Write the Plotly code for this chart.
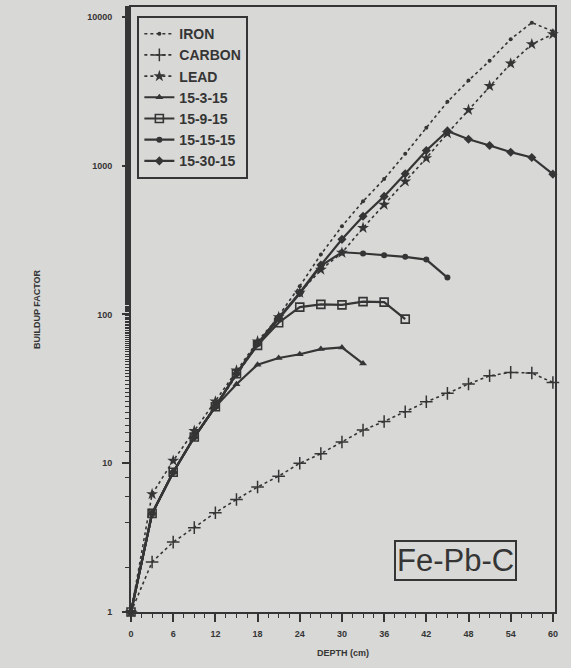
import plotly.graph_objects as go

# depth grid (cm)
depth_full = [0, 3, 6, 9, 12, 15, 18, 21, 24, 27, 30, 33, 36, 39, 42, 45, 48, 51, 54, 57, 60]

iron = [1, 4.5, 8.7, 14.8, 24, 39, 63, 98, 155, 253, 392, 576, 813, 1203, 1800, 2690, 3740, 5070, 7090, 9160, 8020]
carbon = [1, 2.17, 2.95, 3.69, 4.65, 5.71, 6.92, 8.19, 10.0, 11.6, 13.9, 16.7, 19.1, 22.2, 25.9, 29.5, 34.1, 38.7, 40.8, 40.4, 34.9]
lead = [1, 6.2, 10.4, 16.5, 26, 42, 66, 96, 140, 200, 260, 382, 547, 784, 1125, 1653, 2372, 3435, 4865, 6560, 7660]

d_15_3_15 = [0, 3, 6, 9, 12, 15, 18, 21, 24, 27, 30, 33]
v_15_3_15 = [1, 4.6, 8.7, 15, 24, 34, 46, 51, 54, 58.5, 60, 46.8]

d_15_9_15 = [0, 3, 6, 9, 12, 15, 18, 21, 24, 27, 30, 33, 36, 39]
v_15_9_15 = [1, 4.6, 8.7, 15, 24, 40, 62, 88, 112, 117, 116, 122, 121, 93]

d_15_15_15 = [0, 3, 6, 9, 12, 15, 18, 21, 24, 27, 30, 33, 36, 39, 42, 45]
v_15_15_15 = [1, 4.6, 8.7, 15, 24, 40, 63, 94, 138, 212, 262, 257, 250, 244, 234, 177]

d_15_30_15 = depth_full
v_15_30_15 = [1, 4.6, 8.7, 15, 24, 40, 64, 95, 140, 215, 320, 457, 622, 883, 1265, 1714, 1507, 1367, 1233, 1136, 878]

x_ticks = [0, 6, 12, 18, 24, 30, 36, 42, 48, 54, 60]
y_ticks = [1, 10, 100, 1000, 10000]
y_tick_text = ["1", "10", "100", "1000", "10000"]

INK = "#353535"
BG = "#d8d8d6"

fig = go.Figure()

def add(name, x, y, dash, symbol, size, width, mline=0):
    fig.add_trace(go.Scatter(
        x=x, y=y, name=name, mode="lines+markers",
        line=dict(color=INK, width=width, dash=dash),
        marker=dict(symbol=symbol, size=size, color=INK,
                    line=dict(color=INK, width=mline)),
        cliponaxis=False,
    ))

add("IRON", depth_full, iron, "dot", "circle", 4, 1.6)
add("CARBON", depth_full, carbon, "dot", "cross-thin", 9, 1.6, 1.5)
add("LEAD", depth_full, lead, "dot", "star", 9, 1.6)
add("15-3-15", d_15_3_15, v_15_3_15, "solid", "triangle-up", 7, 2.2)
add("15-9-15", d_15_9_15, v_15_9_15, "solid", "square-open", 8, 2.2, 1.6)
add("15-15-15", d_15_15_15, v_15_15_15, "solid", "circle", 6, 2.2)
add("15-30-15", d_15_30_15, v_15_30_15, "solid", "diamond", 7, 2.2)

fig.add_annotation(
    x=0.62, y=0.052, xref="paper", yref="paper", xanchor="left", yanchor="bottom",
    text="Fe-Pb-C", showarrow=False,
    font=dict(family="Liberation Sans, Arial", size=31, color=INK),
    bordercolor=INK, borderwidth=2, borderpad=1,
)

fig.update_layout(
    width=571, height=668,
    margin=dict(l=131, r=16, t=5, b=56),
    paper_bgcolor=BG, plot_bgcolor=BG,
    font=dict(family="Liberation Sans, Arial", color=INK),
    showlegend=True,
    legend=dict(
        x=0.015, y=0.985, xanchor="left", yanchor="top",
        bgcolor="rgba(0,0,0,0)", bordercolor=INK, borderwidth=2,
        font=dict(size=14, weight="bold", color=INK),
        itemwidth=30, tracegroupgap=0,
    ),
    xaxis=dict(
        range=[0, 60.3], tickvals=x_ticks, ticktext=[str(t) for t in x_ticks],
        showgrid=False, zeroline=False,
        showline=True, linecolor=INK, linewidth=2, mirror=True,
        ticks="outside", ticklen=8, tickwidth=2, tickcolor=INK,
        minor=dict(dtick=1.5, ticks="outside", ticklen=4, tickwidth=1, tickcolor=INK),
        tickfont=dict(size=9, weight="bold", color=INK),
        ticklabelstandoff=4,
        title=dict(text="DEPTH (cm)", font=dict(size=9, weight="bold", color=INK), standoff=12),
    ),
    yaxis=dict(
        type="log", range=[0, 4.067], tickvals=y_ticks, ticktext=y_tick_text,
        showgrid=False, zeroline=False,
        showline=True, linecolor=INK, linewidth=2, mirror=True,
        ticks="outside", ticklen=7, tickwidth=2, tickcolor=INK,
        minor=dict(ticks="outside", ticklen=4, tickwidth=1, tickcolor=INK, showgrid=False),
        tickfont=dict(size=9, weight="bold", color=INK),
        ticklabelstandoff=8,
        title=dict(text="BUILDUP FACTOR", font=dict(size=9, weight="bold", color=INK), standoff=45),
    ),
)

fig.write_html("out.html")
